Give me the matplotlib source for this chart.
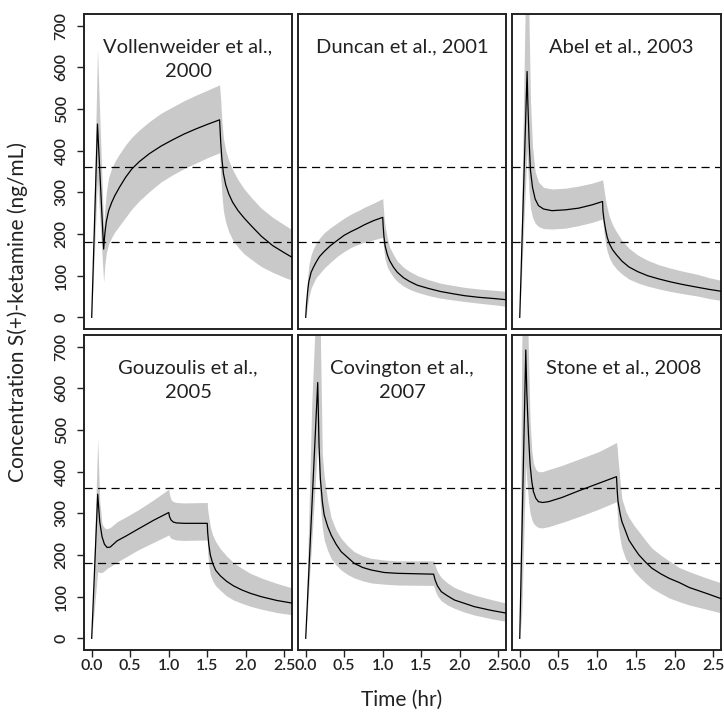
import numpy as np
import matplotlib.pyplot as plt

plt.rcParams['font.family'] = ['Lato', 'DejaVu Sans']

# reference concentrations shown as dashed lines (ng/mL)
ref_levels = [180, 360]

# simulated S(+)-ketamine profiles: time (hr), median and band limits (ng/mL)
vollen_t = [0, 0.075, 0.155, 0.17, 0.19, 0.22, 0.26, 0.30, 0.36, 0.44, 0.52, 0.62, 0.75,
            0.9, 1.05, 1.2, 1.35, 1.5, 1.66, 1.675, 1.69, 1.71, 1.74, 1.78, 1.83, 1.9,
            1.98, 2.08, 2.2, 2.35, 2.5, 2.62]
vollen_mid = [0, 464, 164, 200, 230, 256, 276, 292, 312, 336, 356, 374, 393,
              411, 426, 440, 452, 463, 474, 420, 380, 345, 318, 296, 276, 256,
              238, 218, 195, 172, 155, 142]
vollen_hi = [0, 644, 215, 260, 300, 336, 358, 374, 392, 414, 432, 450, 470,
             490, 505, 520, 533, 545, 558, 520, 470, 430, 400, 376, 354, 330,
             308, 286, 262, 240, 222, 208]
vollen_lo = [0, 330, 85, 125, 155, 176, 192, 205, 220, 240, 260, 280, 302,
             325, 342, 357, 370, 383, 395, 340, 295, 255, 228, 205, 186, 168,
             152, 138, 122, 108, 96, 88]

duncan_t = [0, 0.01, 0.026, 0.04, 0.07, 0.1, 0.134, 0.18, 0.24, 0.32, 0.42, 0.5, 0.59,
            0.68, 0.76, 0.88, 1.0, 1.005, 1.015, 1.03, 1.06, 1.09, 1.14, 1.19, 1.27,
            1.35, 1.45, 1.6, 1.75, 1.9, 2.06, 2.25, 2.45, 2.62]
duncan_mid = [0, 30, 64, 85, 108, 120, 132, 146, 158, 172, 186, 197, 206,
              214, 222, 232, 240, 220, 195, 172, 150, 136, 120, 108, 95,
              86, 77, 69, 62, 57, 52, 48, 45, 42]
duncan_hi = [0, 55, 100, 125, 150, 165, 178, 190, 203, 215, 228, 238, 248,
             256, 264, 274, 285, 270, 245, 220, 190, 168, 150, 135, 120,
             110, 100, 90, 82, 77, 72, 68, 65, 62]
duncan_lo = [0, 10, 30, 48, 70, 82, 95, 105, 118, 132, 148, 158, 168,
             175, 180, 186, 192, 180, 160, 140, 120, 110, 96, 86, 75,
             67, 60, 52, 46, 42, 38, 34, 30, 26]

abel_t = [0, 0.095, 0.104, 0.121, 0.139, 0.165, 0.199, 0.242, 0.307, 0.416, 0.59, 0.76,
          0.935, 1.07, 1.075, 1.09, 1.11, 1.13, 1.16, 1.2, 1.25, 1.32, 1.41, 1.52,
          1.65, 1.8, 1.95, 2.1, 2.3, 2.45, 2.62]
abel_mid = [0, 590, 520, 424, 352, 312, 284, 268, 260, 256, 258, 262,
            270, 278, 255, 232, 210, 192, 176, 162, 150, 135, 121, 110,
            100, 92, 85, 79, 72, 67, 62]
abel_hi = [0, 1000, 860, 700, 520, 410, 350, 325, 312, 308, 310, 315,
           322, 330, 325, 305, 280, 262, 240, 222, 205, 185, 166, 150,
           137, 126, 118, 111, 103, 95, 88]
abel_lo = [0, 400, 360, 300, 262, 240, 226, 218, 213, 212, 214, 220,
           228, 236, 225, 200, 175, 158, 142, 128, 116, 104, 92, 83,
           75, 68, 62, 57, 51, 45, 40]

gouz_t = [0, 0.078, 0.104, 0.134, 0.165, 0.2, 0.24, 0.33, 0.45, 0.6, 0.8, 1.0, 1.01,
          1.03, 1.06, 1.1, 1.2, 1.5, 1.505, 1.52, 1.54, 1.57, 1.61, 1.67, 1.75, 1.84,
          1.95, 2.06, 2.2, 2.4, 2.62]
gouz_mid = [0, 346, 280, 244, 226, 218, 219, 234, 246, 262, 283, 302, 292,
            284, 279, 277, 276, 276, 255, 225, 200, 180, 163, 150, 137, 126,
            116, 108, 100, 91, 84]
gouz_hi = [0, 478, 330, 275, 265, 263, 266, 280, 292, 308, 332, 358, 345,
           333, 328, 326, 325, 326, 310, 290, 268, 248, 232, 215, 198, 182,
           168, 156, 145, 132, 120]
gouz_lo = [0, 160, 158, 158, 162, 168, 172, 183, 196, 212, 230, 248, 245,
           240, 238, 236, 235, 236, 205, 175, 152, 138, 126, 115, 102, 92,
           84, 77, 70, 62, 56]

cov_t = [0, 0.078, 0.156, 0.173, 0.19, 0.216, 0.24, 0.286, 0.33, 0.394, 0.46, 0.545,
         0.63, 0.74, 0.85, 1.02, 1.19, 1.66, 1.68, 1.71, 1.76, 1.84, 1.93, 2.06,
         2.19, 2.41, 2.62]
cov_mid = [0, 307, 614, 464, 384, 328, 296, 268, 248, 226, 208, 194,
           180, 170, 164, 158, 156, 154, 140, 126, 112, 102, 92, 84,
           76, 67, 60]
cov_hi = [0, 560, 900, 800, 730, 440, 390, 330, 290, 260, 240, 222,
          208, 198, 192, 188, 186, 186, 175, 160, 146, 133, 122, 112,
          104, 93, 84]
cov_lo = [0, 230, 470, 390, 320, 265, 236, 210, 192, 176, 164, 153,
          145, 138, 133, 130, 128, 127, 115, 102, 90, 80, 72, 63,
          56, 47, 40]

stone_t = [0, 0.026, 0.078, 0.091, 0.113, 0.134, 0.156, 0.177, 0.208, 0.242, 0.294,
           0.372, 0.545, 0.762, 1.02, 1.25, 1.26, 1.27, 1.3, 1.32, 1.37, 1.41, 1.48,
           1.54, 1.63, 1.71, 1.82, 1.93, 2.06, 2.19, 2.41, 2.62]
stone_mid = [0, 230, 692, 592, 488, 416, 376, 352, 336, 328, 326,
             328, 338, 354, 372, 388, 352, 328, 296, 280, 256, 236, 216,
             200, 182, 168, 155, 144, 134, 122, 108, 94]
stone_hi = [0, 700, 1100, 850, 680, 520, 450, 420, 405, 400, 400,
            405, 415, 430, 448, 470, 455, 430, 370, 335, 305, 290, 270,
            256, 234, 216, 200, 186, 170, 160, 145, 132]
stone_lo = [0, 60, 420, 380, 330, 300, 285, 276, 270, 266, 265,
            268, 278, 292, 310, 328, 300, 270, 235, 216, 190, 180, 160,
            148, 132, 120, 108, 97, 88, 80, 70, 60]

titles = ["Vollenweider et al.,\n2000", "Duncan et al., 2001", "Abel et al., 2003",
          "Gouzoulis et al.,\n2005", "Covington et al.,\n2007", "Stone et al., 2008"]

panels = [
    (vollen_t, vollen_mid, vollen_lo, vollen_hi),
    (duncan_t, duncan_mid, duncan_lo, duncan_hi),
    (abel_t, abel_mid, abel_lo, abel_hi),
    (gouz_t, gouz_mid, gouz_lo, gouz_hi),
    (cov_t, cov_mid, cov_lo, cov_hi),
    (stone_t, stone_mid, stone_lo, stone_hi),
]

W, H = 724, 714
fig = plt.figure(figsize=(W / 100, H / 100), dpi=100)

col_left = [84, 298, 512]
col_width = [208, 208, 209]
row_top = [14, 335]
panel_h = 315
title_x = [0.5, 0.5, 0.525, 0.5, 0.5, 0.535]
ink = '#222222'

for i, (t, mid, lo, hi) in enumerate(panels):
    r, c = divmod(i, 3)
    ax = fig.add_axes([col_left[c] / W, 1 - (row_top[r] + panel_h) / H,
                       col_width[c] / W, panel_h / H])
    ax.fill_between(t, lo, hi, color='#c8c9c8', lw=0, zorder=1)
    ax.plot(t, mid, color='black', lw=0.9, zorder=3)
    for lev in ref_levels:
        ax.axhline(lev, color='black', lw=0.9, dashes=(6.5, 4.3), zorder=2)

    ax.set_xlim(-0.1, 2.6)
    ax.set_ylim(-28, 728)
    for s in ax.spines.values():
        s.set_linewidth(1.4)
        s.set_color(ink)

    ax.text(title_x[i], 0.922, titles[i], transform=ax.transAxes, ha='center',
            va='top', fontsize=14.5, color=ink, linespacing=1.5)

    ax.set_xticks(np.arange(0, 2.51, 0.5))
    ax.set_yticks(range(0, 701, 100))
    ax.tick_params(length=5, width=1.0, color=ink, labelsize=11.5, labelcolor=ink)
    ax.tick_params(axis='x', pad=1.5)
    ax.tick_params(axis='y', pad=6)
    if r == 1:
        ax.set_xticklabels([f"{v:.1f}" for v in np.arange(0, 2.51, 0.5)],
                           fontweight='semibold')
    else:
        ax.tick_params(axis='x', bottom=False, labelbottom=False)
    if c == 0:
        ax.tick_params(axis='y', labelrotation=90)
        for lab in ax.get_yticklabels():
            lab.set_va('center')
            lab.set_fontweight('semibold')
    else:
        ax.tick_params(axis='y', left=False, labelleft=False)

fig.text(18 / W, 1 - 312 / H, "Concentration S(+)-ketamine (ng/mL)", rotation=90,
         ha='center', va='center', fontsize=15, color=ink)
fig.text(402 / W, 1 - 700 / H, "Time (hr)", ha='center', va='center',
         fontsize=15, color=ink)

fig.savefig("out.png", dpi=100)
